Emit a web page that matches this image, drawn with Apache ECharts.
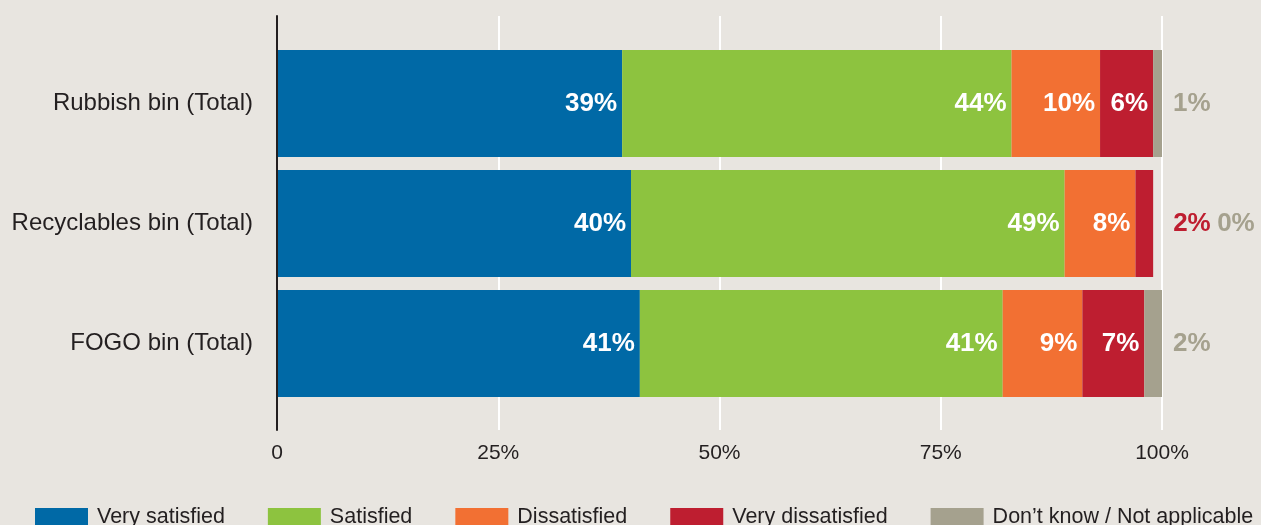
<!DOCTYPE html>
<html>
<head>
<meta charset="utf-8">
<script src="https://cdn.jsdelivr.net/npm/echarts@6/dist/echarts.min.js"></script>
<style>
  html, body { margin: 0; padding: 0; background: #e8e5e0; }
  #chart { width: 1261px; height: 525px; }
</style>
</head>
<body>
<div id="chart"></div>
<script>
// Bin satisfaction survey, shares in percent
const categories = ['Rubbish bin (Total)', 'Recyclables bin (Total)', 'FOGO bin (Total)'];
const seriesNames = ['Very satisfied', 'Satisfied', 'Dissatisfied', 'Very dissatisfied', 'Don\u2019t know / Not applicable'];
const verySatisfied = [39, 40, 41];
const satisfied = [44, 49, 41];
const dissatisfied = [10, 8, 9];
const veryDissatisfied = [6, 2, 7];
const dontKnow = [1, 0, 2];
const xTicks = [0, 25, 50, 75, 100];

const colors = ['#0069a6', '#8dc33f', '#f27033', '#be1e30', '#a5a18e'];
const FONT = '"Liberation Sans", Arial, sans-serif';
const INK = '#231f20';

const chart = echarts.init(document.getElementById('chart'), null, { renderer: 'canvas' });

const insideLabel = {
  show: true,
  position: 'insideRight',
  distance: 5,
  color: '#ffffff',
  fontFamily: FONT,
  fontWeight: 'bold',
  fontSize: 26,
  formatter: p => p.value + '%'
};

function outsideLabel(color, distance) {
  return {
    show: true,
    position: 'right',
    distance: distance,
    color: color,
    fontFamily: FONT,
    fontWeight: 'bold',
    fontSize: 26,
    formatter: p => p.value + '%'
  };
}

function bar(name, values, color, labelFor) {
  return {
    name: name,
    type: 'bar',
    stack: 'total',
    xAxisIndex: 0,
    yAxisIndex: 0,
    barWidth: 107,
    itemStyle: { color: color },
    label: insideLabel,
    data: values.map((v, i) => {
      const lbl = labelFor ? labelFor(v, i) : null;
      return lbl ? { value: v, label: lbl } : v;
    })
  };
}

const option = {
  backgroundColor: '#e8e5e0',
  animation: false,
  textStyle: { fontFamily: FONT },
  legend: {
    left: 35,
    top: 506,
    padding: 0,
    icon: 'rect',
    itemWidth: 53,
    itemHeight: 18,
    itemGap: 43,
    data: seriesNames,
    textStyle: { color: INK, fontSize: 21.5, fontFamily: FONT, padding: [0, 0, 0, 4] }
  },
  grid: [
    // bars
    { left: 277, width: 885, top: 43.5, height: 360, containLabel: false },
    // reference lines and value axis
    { left: 277, width: 885, top: 16, height: 414, containLabel: false }
  ],
  xAxis: [
    { gridIndex: 0, type: 'value', min: 0, max: 100, show: false },
    {
      gridIndex: 1, type: 'value', min: xTicks[0], max: xTicks[xTicks.length - 1], interval: 25,
      axisLine: { show: false }, axisTick: { show: false },
      splitLine: { show: true, lineStyle: { color: '#ffffff', width: 2 } },
      axisLabel: {
        color: INK, fontSize: 21, fontFamily: FONT, margin: 13,
        formatter: v => (v === 0 ? '0' : v + '%')
      }
    }
  ],
  yAxis: [
    {
      gridIndex: 0, type: 'category', data: categories, inverse: true,
      axisLine: { show: false }, axisTick: { show: false }, splitLine: { show: false },
      axisLabel: { color: INK, fontSize: 24, fontFamily: FONT, margin: 24 }
    },
    {
      gridIndex: 1, type: 'value', min: 0, max: 1, z: 10,
      axisLine: { show: true, lineStyle: { color: INK, width: 2 } },
      axisTick: { show: false }, axisLabel: { show: false }, splitLine: { show: false }
    }
  ],
  series: [
    bar(seriesNames[0], verySatisfied, colors[0]),
    bar(seriesNames[1], satisfied, colors[1]),
    bar(seriesNames[2], dissatisfied, colors[2]),
    bar(seriesNames[3], veryDissatisfied, colors[3],
      (v, i) => (v < 4 ? outsideLabel(colors[3], 20) : null)),
    bar(seriesNames[4], dontKnow, colors[4],
      (v, i) => outsideLabel(colors[4], veryDissatisfied[i] < 4 ? 64 : 11))
  ]
};

chart.setOption(option);
</script>
</body>
</html>
